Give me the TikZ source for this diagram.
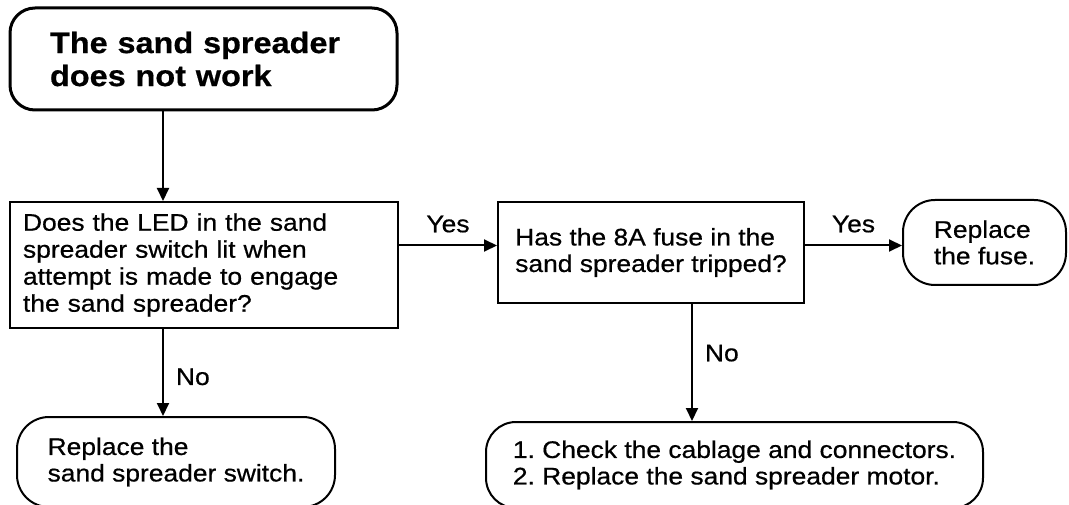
\documentclass[tikz,border=0pt]{standalone}
\usepackage{fontspec}
\setmainfont{Liberation Sans}[FakeStretch=1.1, FakeBold=0.6]
\usetikzlibrary{arrows.meta}
\usetikzlibrary{calc}
\frenchspacing

\begin{document}
\begin{tikzpicture}[x=1pt, y=-1pt,
    txt/.style={font=\fontsize{24}{26.5}\selectfont},
    qbox/.style={draw, line width=2pt, txt, align=left},
    endbox/.style={draw, line width=2pt, txt, align=left, rounded corners=32pt},
    flow/.style={line width=2pt, -{Triangle[length=13pt, width=12pt]}},
    lbl/.style={txt, inner sep=2pt}]

    \useasboundingbox (0,0) rectangle (1069,505);
    \clip (0,0) rectangle (1069,505);

    % columns and row the arrows run along
    \coordinate (lcol) at (163,0);
    \coordinate (rcol) at (692,0);
    \coordinate (yrow) at (0,245.5);

    \node (start) [draw, line width=3pt, rounded corners=25pt, align=left,
        font=\fontsize{29.5}{33}\selectfont\bfseries,
        text width=307pt, inner xsep=40pt, minimum height=102pt]
        at (203.5,59) {The sand spreader\\does not work};

    \node (q1) [qbox, font=\fontsize{24}{27}\selectfont, text width=362pt, inner xsep=13pt, minimum height=126pt]
        at (204,265) {Does the LED in the sand\\spreader switch lit when\\attempt is made to engage\\the sand spreader?};
    \node (q2) [qbox, minimum width=306pt, minimum height=101pt]
        at (651,252.5) {Has the 8A fuse in the\\sand spreader tripped?};

    \node (fuse) [endbox, minimum width=163pt, minimum height=85pt]
        at (984.5,242.5) {Replace\\the fuse.};
    \node (sw) [endbox, minimum width=318pt, minimum height=90pt]
        at (176,462) {Replace the\\sand spreader switch.};
    \node (motor) [endbox, rounded corners=30pt, minimum width=497pt, minimum height=86pt]
        at (734.5,465) {1. Check the cablage and connectors.\\2. Replace the sand spreader motor.};

    \draw [flow] (start.south -| lcol) -- (q1.north -| lcol);
    \draw [flow] (q1.east |- yrow) -- node [lbl, above=10pt] {Yes} (q2.west |- yrow);
    \draw [flow] (q2.east |- yrow) -- node [lbl, above=10pt] {Yes} (fuse.west |- yrow);
    \draw [flow] (q1.south -| lcol) -- node [lbl, pos=0.55, right=10pt] {No} (sw.north -| lcol);
    \draw [flow] (q2.south -| rcol) -- node [lbl, pos=0.42, right=10pt] {No} (motor.north -| rcol);
\end{tikzpicture}
\end{document}
